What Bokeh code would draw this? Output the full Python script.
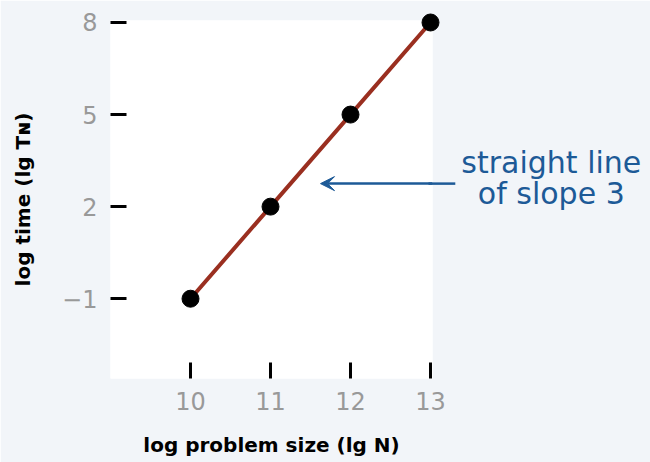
from bokeh.plotting import figure
from bokeh.models import Range1d, FixedTicker, Arrow, VeeHead, ColumnDataSource
from bokeh.core.properties import value
from bokeh.embed import file_html
from bokeh.resources import INLINE

# data
lg_n = [10, 11, 12, 13]
lg_t = [-1, 2, 5, 8]
x_ticks = [10, 11, 12, 13]
y_ticks = [-1, 2, 5, 8]
y_tick_labels = ["\u22121", "2", "5", "8"]
note_lines = ["straight line", "of slope 3"]
note_x = [14.51, 14.51]
note_y = [3.44, 2.43]

BG = "#f2f5f9"
LINE = "#9a2f20"
BLUE = "#1d5a97"

X0, X1 = 9.0, 13.025
p = figure(width=650, height=462, output_backend="svg", toolbar_location=None,
           x_range=Range1d(X0, X1), y_range=Range1d(-3.6, 8.065),
           min_border_left=110, min_border_top=20, min_border_right=218, min_border_bottom=84)
p.frame_width = 322
p.frame_height = 358
p.background_fill_color = "white"
p.border_fill_color = BG
p.outline_line_color = None
p.grid.visible = False

for ax in (p.xaxis[0], p.yaxis[0]):
    ax.axis_line_color = None
    ax.major_tick_in = 16
    ax.major_tick_out = 0
    ax.major_tick_line_width = 3
    ax.major_tick_line_color = "black"
    ax.minor_tick_line_color = None
    ax.major_label_text_font = "DejaVu Sans"
    ax.major_label_text_font_size = "24px"
    ax.major_label_text_color = "#999999"
    ax.major_label_standoff = 13
    ax.axis_label_text_font = "DejaVu Sans"
    ax.axis_label_text_font_size = "20px"
    ax.axis_label_text_font_style = "bold"
    ax.axis_label_text_color = "black"

p.xaxis.ticker = FixedTicker(ticks=x_ticks)
p.yaxis.ticker = FixedTicker(ticks=y_ticks)
p.yaxis.major_label_overrides = {t: l for t, l in zip(y_ticks, y_tick_labels)}
p.xaxis.axis_label = "log problem size (lg N)"
p.yaxis.axis_label = "log time (lg T\u0274)"
p.xaxis.axis_label_standoff = 20
p.yaxis.axis_label_standoff = 24

src = ColumnDataSource(dict(x=lg_n, y=lg_t))
ln = p.line("x", "y", source=src, line_color=LINE, line_width=4)
ln.level = "overlay"
sc = p.scatter("x", "y", source=src, size=17, fill_color="black", line_color="black")
sc.level = "overlay"

# annotation: arrow (shaft outside frame drawn as overlay glyph)
arrow_y = 2.75
arrow_from, arrow_to = 13.31, 11.625
seg = p.segment(x0=[arrow_from], y0=[arrow_y], x1=[X1 - 0.05], y1=[arrow_y],
                line_color=BLUE, line_width=2.5)
seg.level = "overlay"
arr = Arrow(x_start=X1, y_start=arrow_y, x_end=arrow_to, y_end=arrow_y,
            line_color=BLUE, line_width=2.5,
            end=VeeHead(size=14, fill_color=BLUE, line_color=BLUE, line_width=1))
p.add_layout(arr)

tsrc = ColumnDataSource(dict(x=note_x, y=note_y, t=note_lines))
tx = p.text("x", "y", text="t", source=tsrc, text_align="center", text_baseline="middle",
            text_font=value("DejaVu Sans"), text_font_size="30px", text_color=BLUE)
tx.level = "overlay"

html = file_html(p, INLINE)
html = html.replace("<body>", '<body style="background:%s">' % BG, 1)
open("out.html", "w").write(html)
